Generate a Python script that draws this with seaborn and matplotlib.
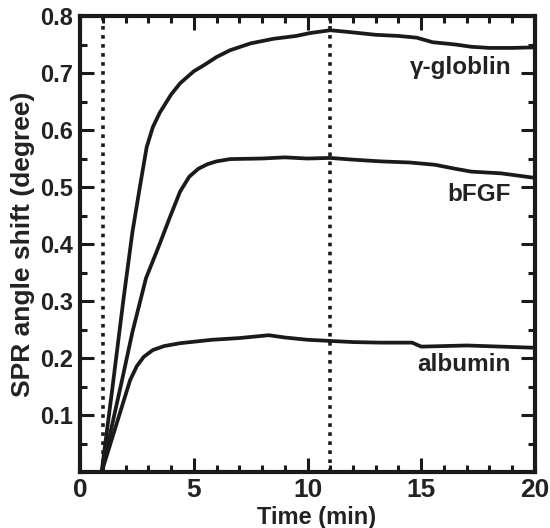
import matplotlib
matplotlib.use("Agg")
import matplotlib.pyplot as plt
import seaborn as sns
import pandas as pd
from matplotlib.ticker import MultipleLocator

# curves (time in min, SPR shift in degree)
t_glob = [0, 0.95, 1.4, 1.9, 2.3, 2.63, 2.93, 3.2, 3.5, 4.0, 4.4, 5.0, 5.5, 6.0, 6.6, 7.5,
          8.5, 9.5, 10.1, 11.0, 11.8, 13.0, 14.0, 14.8, 15.5, 16.5, 17.2, 18.0, 19.0, 20]
v_glob = [0, 0, 0.14, 0.30, 0.42, 0.50, 0.57, 0.605, 0.63, 0.662, 0.682, 0.703, 0.715, 0.728, 0.740, 0.752,
          0.760, 0.765, 0.770, 0.775, 0.772, 0.767, 0.765, 0.762, 0.754, 0.750, 0.746, 0.744, 0.744, 0.745]

t_bfgf = [0, 0.95, 1.84, 2.3, 2.9, 3.5, 3.95, 4.4, 4.8, 5.2, 5.6, 6.0, 6.6, 8.0, 9.0, 10.0,
          11.0, 12.0, 13.2, 14.5, 15.6, 16.5, 17.2, 18.5, 20]
v_bfgf = [0, 0, 0.16, 0.245, 0.34, 0.40, 0.447, 0.492, 0.518, 0.532, 0.540, 0.545, 0.549, 0.550, 0.552, 0.550,
          0.551, 0.548, 0.545, 0.543, 0.539, 0.532, 0.527, 0.524, 0.516]

t_alb = [0, 0.95, 2.2, 2.5, 2.8, 3.2, 3.7, 4.4, 5.8, 7.0, 8.3, 9.0, 10.0, 11.0, 12.0, 13.2,
         14.6, 15.0, 17.0, 18.5, 20]
v_alb = [0, 0, 0.161, 0.186, 0.202, 0.214, 0.221, 0.226, 0.232, 0.235, 0.240, 0.236, 0.232, 0.230, 0.228, 0.227,
         0.227, 0.220, 0.222, 0.220, 0.218]

labels = ["γ-globlin", "bFGF", "albumin"]
label_y = [0.71, 0.486, 0.188]
markers_t = [1.0, 11.0]

df = pd.concat([
    pd.DataFrame({"Time": t_glob, "Shift": v_glob, "Protein": labels[0]}),
    pd.DataFrame({"Time": t_bfgf, "Shift": v_bfgf, "Protein": labels[1]}),
    pd.DataFrame({"Time": t_alb, "Shift": v_alb, "Protein": labels[2]}),
])

sns.set_style("ticks")
plt.rcParams['font.family'] = ['Liberation Sans', 'DejaVu Sans']
plt.rcParams['font.weight'] = 'bold'

fig = plt.figure(figsize=(5.5, 5.28), dpi=100)
ax = fig.add_axes([0.1455, 0.106, 0.8272, 0.8637])

sns.lineplot(data=df, x="Time", y="Shift", hue="Protein", estimator=None,
             palette=["#1a1a1a"] * 3, linewidth=2.7, legend=False, ax=ax)

for t in markers_t:
    ax.axvline(t, color="#1a1a1a", linestyle=(0, (1, 1.5)), linewidth=2.6)

for name, y in zip(labels, label_y):
    ax.text(18.95, y, name, ha="right", va="center", fontsize=17.5, fontweight="bold", color="#222222")

ax.set_xlim(0, 20)
ax.set_ylim(0, 0.8)
ax.xaxis.set_minor_locator(MultipleLocator(1))
ax.yaxis.set_minor_locator(MultipleLocator(0.05))
ax.set_xticks([0, 5, 10, 15, 20])
ax.set_xticklabels(["0", "5", "10", "15", "20"])
ax.set_yticks([0.1, 0.2, 0.3, 0.4, 0.5, 0.6, 0.7, 0.8])
ax.set_yticklabels(["0.1", "0.2", "0.3", "0.4", "0.5", "0.6", "0.7", "0.8"])

ax.tick_params(which="both", direction="in", top=True, right=True, width=2.2, color="#1a1a1a",
               labelcolor="#222222")
ax.tick_params(which="major", length=10, pad=5)
ax.tick_params(which="minor", length=5)
ax.tick_params(axis="x", labelsize=19, pad=4)
ax.tick_params(axis="y", labelsize=17)

for s in ax.spines.values():
    s.set_linewidth(3)
    s.set_color("#1a1a1a")

ax.set_xlabel("Time (min)", fontsize=17, fontweight="bold", color="#222222", labelpad=-3)
ax.xaxis.set_label_coords(0.52, -0.075)
ax.set_ylabel("SPR angle shift (degree)", fontsize=19, fontweight="bold", color="#222222", labelpad=4)

fig.savefig("out.png", dpi=100)
